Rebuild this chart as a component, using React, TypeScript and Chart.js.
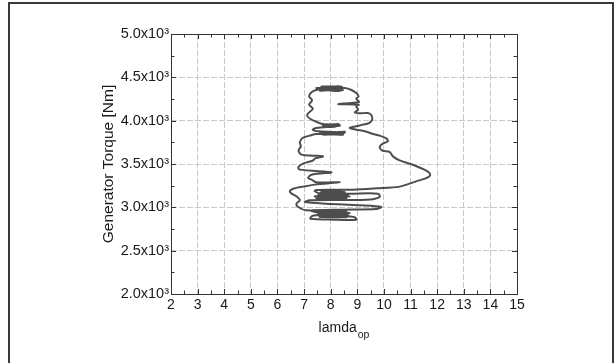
import React, { useEffect, useRef } from 'react';
import { Chart, registerables } from 'chart.js';

Chart.register(...registerables);

// Trajectory of operating tip-speed ratio (lamda_op) vs generator torque [Nm]
const lambdaOp = [
  8.46, 7.46, 8.4, 7.59, 8.46, 7.65, 8.4, 7.53, 8.34, 7.71, 8.49, 7.59, 8.28, 7.46,
  7.28, 7.19, 7.3, 7.19, 7.33, 7.19, 7.11, 7.24, 7.46, 7.69,
  8.34, 7.71, 8.28, 7.78, 8.34, 7.69, 8.21, 7.46, 7.33, 7.53,
  8.53, 7.65, 8.46, 7.59, 8.53, 7.71, 8.4, 7.65, 8.46, 7.46,
  7.21, 6.94, 6.84, 6.88, 6.79, 6.9, 7.33, 7.71, 7.4, 7.33, 6.96, 6.78, 6.84, 8.03, 7.28,
  7.15, 7.28, 7.46, 8.34, 7.4, 6.96, 6.59, 6.46, 6.53, 6.71, 6.84, 6.71, 6.78, 7.08,
  8.59, 7.59, 8.71, 7.53, 8.65, 7.65, 8.71, 7.59, 8.59, 7.46, 7.28, 7.24, 8.09, 8.96, 8.9,
  8.34, 7.71, 8.46, 7.84, 8.4, 7.59, 7.28, 8.46, 9.71, 9.9, 9.09, 7.84, 7.03, 7.21, 9.34,
  9.84, 9.78, 8.71,
  7.59, 8.65, 7.53, 8.71, 7.59, 8.59, 7.46, 8.53, 7.65, 8.59, 7.4, 8.34, 7.71, 7.4, 7.46,
  8.09, 8.84, 9.71, 10.59, 11.21, 11.59, 11.74, 11.59, 11.09, 10.59, 10.34, 10.21, 9.94,
  9.84, 9.96, 10.15, 10.09, 9.84, 9.59, 9.28, 8.96, 8.71, 8.96, 9.21, 9.44, 9.56, 9.53,
  9.4, 9.09, 8.9, 9.03, 8.96, 9.05, 8.28, 9.06, 8.96, 9.05, 8.96, 8.78, 8.53, 7.84,
];

const torque = [
  4385, 4377, 4365, 4358, 4350, 4392, 4392, 4369, 4342, 4385, 4373, 4346, 4396, 4354,
  4327, 4281, 4235, 4185, 4138, 4096, 4058, 4019, 3988, 3962,
  3954, 3946, 3962, 3935, 3942, 3954, 3935, 3915, 3896, 3877,
  3862, 3869, 3846, 3854, 3873, 3838, 3854, 3862, 3838, 3846,
  3827, 3800, 3750, 3704, 3654, 3608, 3596, 3588, 3562, 3539, 3504, 3462, 3435, 3404, 3377,
  3338, 3319, 3289, 3289, 3262, 3239, 3215, 3185, 3158, 3127, 3081, 3042, 3004, 2965,
  2954, 2942, 2935, 2923, 2915, 2904, 2896, 2889, 2885, 2908, 2896, 2869, 2858, 2858, 2885,
  2904, 2927, 2946, 2915, 2889, 2935, 2962, 2973, 2981, 3004, 3023, 3042, 3062, 3081, 3088,
  3119, 3158, 3158,
  3165, 3146, 3139, 3127, 3115, 3108, 3100, 3173, 3185, 3154, 3127, 3115, 3146, 3185, 3200,
  3204, 3204, 3219, 3239, 3300, 3338, 3377, 3423, 3492, 3542, 3588, 3639, 3654,
  3696, 3735, 3762, 3796, 3827, 3846, 3877, 3896, 3915, 3935, 3954, 3973, 4012, 4062,
  4088, 4085, 4096, 4127, 4165, 4185, 4192, 4215, 4254, 4281, 4319, 4354, 4377, 4385,
];

const xRange = [2, 15];
const yRange = [2000, 5000];
const xMajorStep = 1;
const xMinorStep = 0.5;
const yMajorStep = 500;
const yMinorStep = 250;
const yTitle = 'Generator Torque [Nm]';
const xTitleMain = 'lamda';
const xTitleSub = 'op';

const FONT = "'Liberation Sans', Arial, Helvetica, sans-serif";
const W = 616;
const H = 363;

const decorPlugin = {
  id: 'decor',
  afterDraw(chart: any) {
    const { ctx, chartArea: a, scales } = chart;
    const xs = scales.x;
    const ys = scales.y;
    ctx.save();
    // inward ticks on all four sides
    ctx.strokeStyle = '#333';
    ctx.lineWidth = 1;
    ctx.beginPath();
    for (let v = xRange[0]; v <= xRange[1] + 1e-9; v += xMinorStep) {
      const px = Math.round(xs.getPixelForValue(v)) + 0.5;
      const major = Math.abs(v / xMajorStep - Math.round(v / xMajorStep)) < 1e-6;
      const len = major ? 5 : 3.5;
      ctx.moveTo(px, a.bottom);
      ctx.lineTo(px, a.bottom - len);
      ctx.moveTo(px, a.top);
      ctx.lineTo(px, a.top + len);
    }
    for (let v = yRange[0]; v <= yRange[1] + 1e-9; v += yMinorStep) {
      const py = Math.round(ys.getPixelForValue(v)) + 0.5;
      const major = Math.abs(v / yMajorStep - Math.round(v / yMajorStep)) < 1e-6;
      const len = major ? 5 : 3.5;
      ctx.moveTo(a.left, py);
      ctx.lineTo(a.left + len, py);
      ctx.moveTo(a.right, py);
      ctx.lineTo(a.right - len, py);
    }
    ctx.stroke();
    // plot frame
    ctx.strokeStyle = '#333';
    ctx.lineWidth = 1;
    ctx.strokeRect(
      Math.round(a.left) + 0.5,
      Math.round(a.top) + 0.5,
      Math.round(a.right) - Math.round(a.left),
      Math.round(a.bottom) - Math.round(a.top)
    );
    // x title with subscript
    const mainFont = `14px ${FONT}`;
    const subFont = `10.5px ${FONT}`;
    ctx.fillStyle = '#1a1a1a';
    ctx.textBaseline = 'alphabetic';
    ctx.textAlign = 'left';
    ctx.font = mainFont;
    const wMain = ctx.measureText(xTitleMain).width;
    ctx.font = subFont;
    const wSub = ctx.measureText(xTitleSub).width;
    const total = wMain + 1 + wSub;
    const cx = (a.left + a.right) / 2;
    const x0 = cx - total / 2;
    const base = a.bottom + 38;
    ctx.font = mainFont;
    ctx.fillText(xTitleMain, x0, base);
    ctx.font = subFont;
    ctx.fillText(xTitleSub, x0 + wMain + 1, base + 6);
    // outer picture frame
    ctx.strokeStyle = '#3a3a3a';
    ctx.lineWidth = 2;
    ctx.beginPath();
    ctx.moveTo(9, H + 2);
    ctx.lineTo(9, 3);
    ctx.lineTo(613, 3);
    ctx.lineTo(613, H + 2);
    ctx.stroke();
    ctx.restore();
  },
};

export default function App() {
  const ref = useRef<HTMLCanvasElement | null>(null);

  useEffect(() => {
    if (!ref.current) return;
    const points = lambdaOp.map((x, i) => ({ x, y: torque[i] }));
    const chart = new Chart(ref.current, {
      type: 'scatter',
      data: {
        datasets: [
          {
            data: points,
            showLine: true,
            borderColor: '#4d4d4d',
            borderWidth: 2,
            pointRadius: 0,
            pointHoverRadius: 0,
            tension: 0.3,
            fill: false,
          },
        ],
      },
      options: {
        responsive: false,
        animation: false,
        events: [],
        layout: { padding: { left: 0, right: 99, top: 34, bottom: 0 } },
        plugins: {
          legend: { display: false },
          tooltip: { enabled: false },
          title: { display: false },
        },
        scales: {
          x: {
            type: 'linear',
            min: xRange[0],
            max: xRange[1],
            afterFit: (s: any) => {
              s.height = H - 294;
            },
            ticks: {
              stepSize: xMajorStep,
              autoSkip: false,
              maxRotation: 0,
              padding: 3,
              color: '#1a1a1a',
              font: { family: FONT, size: 14 },
            },
            grid: {
              color: '#c8c8c8',
              lineWidth: 1,
              drawTicks: false,
            },
            border: { display: false, dash: [6, 2] },
          },
          y: {
            type: 'linear',
            min: yRange[0],
            max: yRange[1],
            afterFit: (s: any) => {
              s.width = 171;
            },
            ticks: {
              stepSize: yMajorStep,
              autoSkip: false,
              padding: 2,
              color: '#1a1a1a',
              font: { family: FONT, size: 14.5 },
              callback: (v: any) => (Number(v) / 1000).toFixed(1) + 'x10\u00B3',
            },
            grid: {
              color: '#c8c8c8',
              lineWidth: 1,
              drawTicks: false,
            },
            border: { display: false, dash: [6, 2] },
            title: {
              display: true,
              text: yTitle,
              color: '#1a1a1a',
              font: { family: FONT, size: 15.5 },
              padding: { top: 99, bottom: 0 },
            },
          },
        },
      },
      plugins: [decorPlugin],
    });
    return () => chart.destroy();
  }, []);

  return (
    <div style={{ position: 'absolute', left: 0, top: 0, width: W, height: H, background: '#fff' }}>
      <canvas ref={ref} width={W} height={H} style={{ display: 'block', width: W, height: H }} />
    </div>
  );
}
